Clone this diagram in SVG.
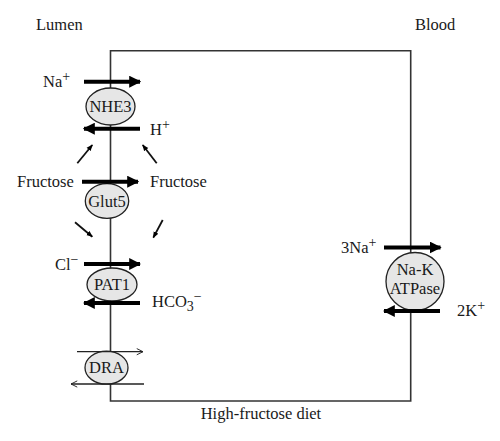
<svg xmlns="http://www.w3.org/2000/svg" width="500" height="441" viewBox="0 0 500 441">
<defs>
<style>
text{font-family:"Liberation Serif","Times New Roman",serif;font-size:16.5px;fill:#1a1a1a}
.lbl{font-size:14px}
.mem{fill:none;stroke:#333;stroke-width:1.6}
.thick{stroke:#000;stroke-width:4;fill:none}
.diag{stroke:#111;stroke-width:1.8;fill:none}
.thin{stroke:#222;stroke-width:1.3;fill:none}
.node{fill:#e6e6e6;stroke:#222;stroke-width:1.3}
</style>
<marker id="head" viewBox="0 0 10 10" refX="9" refY="5" markerWidth="3" markerHeight="3" orient="auto" markerUnits="strokeWidth">
<path d="M0,0 L10,5 L0,10 z" fill="#000"/>
</marker>
<marker id="small" viewBox="0 0 10 10" refX="9" refY="5" markerWidth="3.6" markerHeight="3.6" orient="auto" markerUnits="strokeWidth">
<path d="M0,1 L10,5 L0,9 z" fill="#000"/>
</marker>
<marker id="open" viewBox="0 0 10 10" refX="9" refY="5" markerWidth="6" markerHeight="6" orient="auto" markerUnits="strokeWidth">
<path d="M1,1 L9,5 L1,9" fill="none" stroke="#222" stroke-width="1.2"/>
</marker>
</defs>
<text x="36" y="30">Lumen</text>
<text x="415" y="30">Blood</text>
<path class="mem" d="M110.5,50.7 H410.7 V401 H110.5 Z"/>
<g id="NHE3">
<ellipse class="node" cx="110.5" cy="106.5" rx="24.5" ry="18.5"/>
<text x="110.5" y="112" text-anchor="middle">NHE3</text>
</g>
<g id="Glut5">
<ellipse class="node" cx="107" cy="201" rx="21.7" ry="17.3"/>
<text x="107" y="206.5" text-anchor="middle">Glut5</text>
</g>
<g id="PAT1">
<ellipse class="node" cx="112" cy="284.5" rx="25" ry="16.5"/>
<text x="112" y="290" text-anchor="middle">PAT1</text>
</g>
<g id="DRA">
<ellipse class="node" cx="106.5" cy="367.7" rx="21.5" ry="16.5"/>
<text x="106.5" y="373" text-anchor="middle">DRA</text>
</g>
<g id="NaK-ATPase">
<circle class="node" cx="415" cy="281.5" r="29"/>
<text x="415" y="275" text-anchor="middle">Na-K</text>
<text x="415" y="293.5" text-anchor="middle">ATPase</text>
</g>
<g id="connectors">
<line class="thick" x1="84" y1="81.7" x2="140" y2="81.7" marker-end="url(#head)"/>
<line class="thick" x1="140" y1="128.7" x2="84" y2="128.7" marker-end="url(#head)"/>
<line class="thick" x1="82" y1="181.7" x2="138" y2="181.7" marker-end="url(#head)"/>
<line class="thick" x1="84" y1="264" x2="140" y2="264" marker-end="url(#head)"/>
<line class="thick" x1="140" y1="303" x2="84" y2="303" marker-end="url(#head)"/>
<line class="thick" x1="384" y1="247.5" x2="440.5" y2="247.5" marker-end="url(#head)"/>
<line class="thick" x1="440" y1="311" x2="384" y2="311" marker-end="url(#head)"/>
<line class="diag" x1="77.3" y1="163.3" x2="92.3" y2="145" marker-end="url(#small)"/>
<line class="diag" x1="156.7" y1="163.3" x2="142.7" y2="145" marker-end="url(#small)"/>
<line class="diag" x1="75" y1="222.3" x2="92.3" y2="236.7" marker-end="url(#small)"/>
<line class="diag" x1="162.7" y1="220" x2="153.3" y2="237.7" marker-end="url(#small)"/>
<line class="thin" x1="77" y1="351.7" x2="143" y2="351.7" marker-end="url(#open)"/>
<line class="thin" x1="144" y1="384" x2="71" y2="384" marker-end="url(#open)"/>
</g>
<text x="43" y="87">Na<tspan class="lbl" dy="-6">+</tspan></text>
<text x="150" y="135">H<tspan class="lbl" dy="-6">+</tspan></text>
<text x="17" y="187">Fructose</text>
<text x="150" y="187">Fructose</text>
<text x="55" y="270">Cl<tspan class="lbl" dy="-6">−</tspan></text>
<text x="152" y="307">HCO<tspan class="lbl" dy="4">3</tspan><tspan class="lbl" dy="-10">−</tspan></text>
<text x="341" y="253">3Na<tspan class="lbl" dy="-6">+</tspan></text>
<text x="457" y="316">2K<tspan class="lbl" dy="-6">+</tspan></text>
<text x="200.7" y="419">High-fructose diet</text>
</svg>
